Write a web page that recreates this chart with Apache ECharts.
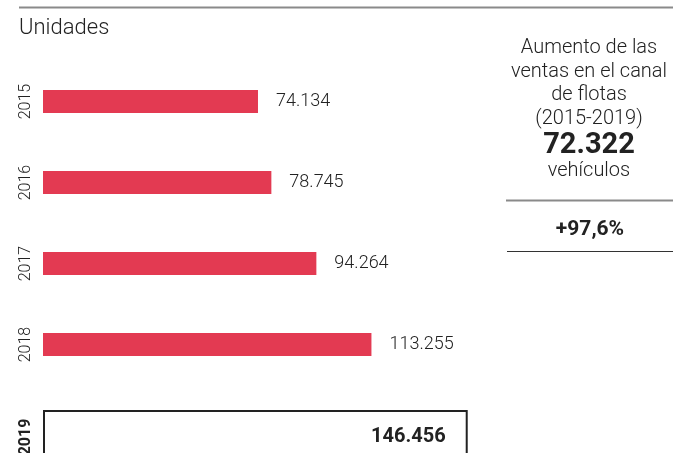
<!DOCTYPE html>
<html>
<head>
<meta charset="utf-8">
<script src="https://cdn.jsdelivr.net/npm/echarts@6/dist/echarts.min.js"></script>
<style>
  html, body { margin: 0; padding: 0; background: #fff; }
  #chart { width: 673px; height: 453px; }
</style>
</head>
<body>
<div id="chart"></div>
<script>
// Fleet-channel sales, units per year
const years = ['2015', '2016', '2017', '2018'];
const fleetSales = [74134, 78745, 94264, 113255];
const lastYear = ['2019'];
const lastYearSales = [146456];

// Side panel summary
const summaryLines = ['Aumento de las', 'ventas en el canal', 'de flotas', '(2015-2019)'];
const summaryTotal = '72.322';
const summaryUnit = 'vehículos';
const summaryPct = '+97,6%';

const FONT = 'Roboto, "Open Sans", sans-serif';
const INK = '#222';
const RED = '#E33A52';
const VALUE_MAX = 160000;

// Spanish thousands separator
const fmt = v => String(v).replace(/\B(?=(\d{3})+(?!\d))/g, '.');

const chart = echarts.init(document.getElementById('chart'), null, { renderer: 'canvas' });

const panelX = 589;
const lineYs = [48, 71.5, 95, 118.5];

const graphics = [
  // top rule
  { type: 'line', shape: { x1: 19, y1: 7.5, x2: 673, y2: 7.5 }, style: { stroke: '#8a8a8a', lineWidth: 2 } },
  // side panel rules
  { type: 'line', shape: { x1: 506, y1: 200.5, x2: 673, y2: 200.5 }, style: { stroke: '#8a8a8a', lineWidth: 2 } },
  { type: 'line', shape: { x1: 507, y1: 251.5, x2: 673, y2: 251.5 }, style: { stroke: '#333', lineWidth: 1 } }
];
summaryLines.forEach((t, i) => {
  graphics.push({
    type: 'text', x: panelX, y: lineYs[i],
    style: { text: t, font: '300 20px ' + FONT, fill: INK, align: 'center', verticalAlign: 'middle' }
  });
});
graphics.push(
  { type: 'text', x: panelX, y: 146,
    style: { text: summaryTotal, font: 'bold 29px ' + FONT, fill: INK, align: 'center', verticalAlign: 'middle' } },
  { type: 'text', x: panelX, y: 171,
    style: { text: summaryUnit, font: '300 20px ' + FONT, fill: INK, align: 'center', verticalAlign: 'middle' } },
  { type: 'text', x: panelX + 1, y: 230,
    style: { text: summaryPct, font: 'bold 21px ' + FONT, fill: INK, align: 'center', verticalAlign: 'middle' } }
);

const option = {
  backgroundColor: '#fff',
  animation: false,
  title: {
    text: 'Unidades', left: 14, top: 12,
    textStyle: { fontFamily: FONT, fontWeight: 300, fontSize: 22, color: INK }
  },
  grid: [
    { left: 43, top: 61, width: 464, height: 324, outerBoundsMode: 'none', containLabel: false },
    { left: 43, top: 410, width: 464, height: 54, outerBoundsMode: 'none', containLabel: false }
  ],
  xAxis: [
    { gridIndex: 0, type: 'value', min: 0, max: VALUE_MAX, show: false },
    { gridIndex: 1, type: 'value', min: 0, max: VALUE_MAX, show: false }
  ],
  yAxis: [
    {
      gridIndex: 0, type: 'category', data: years, inverse: true,
      axisLine: { show: false }, axisTick: { show: false },
      axisLabel: { rotate: 90, margin: 9, fontFamily: FONT, fontSize: 16, fontWeight: 300, color: INK }
    },
    {
      gridIndex: 1, type: 'category', data: lastYear,
      axisLine: { show: false }, axisTick: { show: false },
      axisLabel: { rotate: 90, margin: 9, fontFamily: FONT, fontSize: 16, fontWeight: 'bold', color: INK }
    }
  ],
  series: [
    {
      type: 'bar', xAxisIndex: 0, yAxisIndex: 0, data: fleetSales, barWidth: 23,
      itemStyle: { color: RED },
      label: {
        show: true, position: 'right', distance: 18,
        formatter: p => fmt(p.value),
        fontFamily: FONT, fontSize: 18, fontWeight: 300, color: INK
      },
      silent: true
    },
    {
      type: 'bar', xAxisIndex: 1, yAxisIndex: 1, data: lastYearSales, barWidth: 54,
      itemStyle: { color: '#fff', borderColor: INK, borderWidth: 2 },
      label: {
        show: true, position: 'insideRight', distance: 22,
        formatter: p => fmt(p.value),
        fontFamily: FONT, fontSize: 20, fontWeight: 'bold', color: INK
      },
      silent: true
    }
  ],
  graphic: graphics
};

chart.setOption(option);
</script>
</body>
</html>
